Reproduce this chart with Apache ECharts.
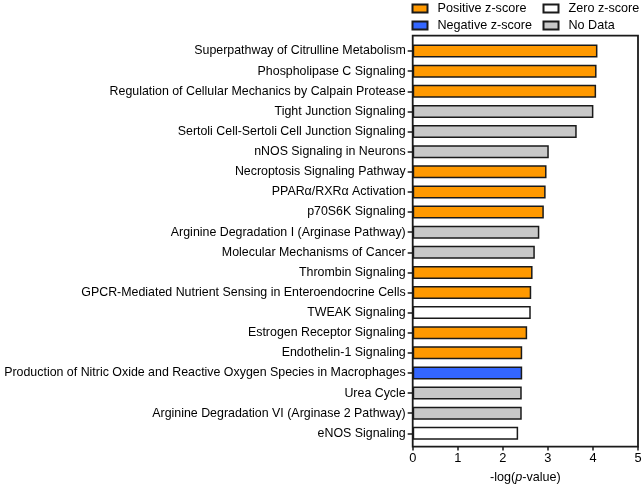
<!DOCTYPE html>
<html>
<head>
<meta charset="utf-8">
<script src="https://cdn.jsdelivr.net/npm/echarts@6/dist/echarts.min.js"></script>
<style>
  html, body { margin: 0; padding: 0; background: #fff; }
  #chart-container { width: 643px; height: 487px; }
</style>
</head>
<body>
<div id="chart-container"></div>
<script>
var pathways = [
  "Superpathway of Citrulline Metabolism",
  "Phospholipase C Signaling",
  "Regulation of Cellular Mechanics by Calpain Protease",
  "Tight Junction Signaling",
  "Sertoli Cell-Sertoli Cell Junction Signaling",
  "nNOS Signaling in Neurons",
  "Necroptosis Signaling Pathway",
  "PPARα/RXRα Activation",
  "p70S6K Signaling",
  "Arginine Degradation I (Arginase Pathway)",
  "Molecular Mechanisms of Cancer",
  "Thrombin Signaling",
  "GPCR-Mediated Nutrient Sensing in Enteroendocrine Cells",
  "TWEAK Signaling",
  "Estrogen Receptor Signaling",
  "Endothelin-1 Signaling",
  "Production of Nitric Oxide and Reactive Oxygen Species in Macrophages",
  "Urea Cycle",
  "Arginine Degradation VI (Arginase 2 Pathway)",
  "eNOS Signaling"
];
var logP = [4.10, 4.08, 4.07, 4.01, 3.64, 3.02, 2.97, 2.95, 2.91, 2.81,
            2.71, 2.66, 2.63, 2.62, 2.54, 2.43, 2.43, 2.42, 2.42, 2.34];
// pos / neg / zero / none
var zStatus = ["pos", "pos", "pos", "none", "none", "none", "pos", "pos", "pos", "none",
               "none", "pos", "pos", "zero", "pos", "pos", "neg", "none", "none", "zero"];
var xTicks = [0, 1, 2, 3, 4, 5];

var groups = [
  { key: "pos", name: "Positive z-score", color: "#FF9900" },
  { key: "neg", name: "Negative z-score", color: "#3366FF" },
  { key: "zero", name: "Zero z-score", color: "#FFFFFF" },
  { key: "none", name: "No Data", color: "#C8C8C8" }
];

var font = "'Liberation Sans', Arial, Helvetica, sans-serif";
var ink = "#1a1a1a";

var dom = document.getElementById("chart-container");
var myChart = echarts.init(dom, null, { renderer: "canvas" });

var series = groups.map(function (g) {
  return {
    name: g.name,
    type: "bar",
    stack: "all",
    barWidth: 13,
    itemStyle: { color: g.color, borderColor: ink, borderWidth: 1.5 },
    data: logP.map(function (v, i) { return zStatus[i] === g.key ? v : "-"; })
  };
});

var legendCommon = {
  orient: "vertical",
  top: -3,
  itemWidth: 15,
  itemHeight: 8,
  itemGap: 4,
  icon: "rect",
  textStyle: { fontFamily: font, fontSize: 12.6, color: "#000", padding: [0, 0, 0, 5] }
};

var option = {
  animation: false,
  backgroundColor: "#fff",
  legend: [
    Object.assign({}, legendCommon, { left: 406.5, data: [groups[0].name, groups[1].name] }),
    Object.assign({}, legendCommon, { left: 537.5, data: [groups[2].name, groups[3].name] })
  ],
  grid: { left: 412.7, right: 5, top: 41, bottom: 43.6, containLabel: false, outerBoundsMode: "none" },
  xAxis: {
    type: "value",
    min: xTicks[0],
    max: xTicks[xTicks.length - 1],
    interval: 1,
    offset: 3,
    axisLine: { show: false },
    axisTick: { show: true, length: 4, lineStyle: { color: ink, width: 1.5 } },
    splitLine: { show: false },
    axisLabel: { margin: 6, fontFamily: font, fontSize: 12.8, color: "#000" },
    name: "-log({i|p}-value)",
    nameLocation: "middle",
    nameGap: 25,
    nameTextStyle: {
      fontFamily: font, fontSize: 12.6, color: "#000",
      rich: { i: { fontStyle: "italic", fontFamily: font, fontSize: 12.6, color: "#000" } }
    }
  },
  yAxis: {
    type: "category",
    inverse: true,
    data: pathways,
    axisLine: { show: false },
    axisTick: { show: true, alignWithLabel: true, length: 5, lineStyle: { color: ink, width: 1.5 } },
    axisLabel: { margin: 7, fontFamily: font, fontSize: 12.4, color: "#000", interval: 0 }
  },
  graphic: [{
    type: "rect",
    z: 100,
    shape: { x: 412.7, y: 35.7, width: 225.3, height: 411 },
    style: { fill: null, stroke: ink, lineWidth: 1.8 }
  }],
  series: series
};

myChart.setOption(option);
</script>
</body>
</html>
